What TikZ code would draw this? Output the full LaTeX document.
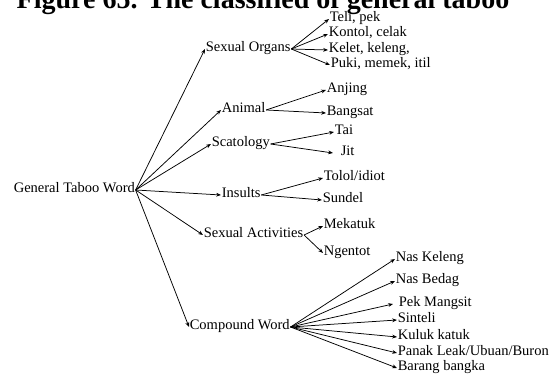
\documentclass[tikz,border=0pt]{standalone}
\usepackage{fontspec}
\setmainfont{Liberation Serif}
\usetikzlibrary{arrows.meta}
\begin{document}
\begin{tikzpicture}[x=1pt,y=-1pt,
  lbl/.style={anchor=west,inner xsep=0.6pt,inner ysep=0pt,font=\fontsize{14.5}{17}\selectfont,text height=0.68em,text depth=0.22em},
  conn/.style={line width=0.75pt,-{Stealth[length=4.8pt,width=3.8pt]}}]
\useasboundingbox (0,0) rectangle (558,374);
\clip (0,0) rectangle (558,374);
\node[anchor=base,inner sep=0pt,font=\fontsize{28}{31}\selectfont\bfseries] (title) at (263,9) {Figure 65. The classified of general taboo};
% root
\node[lbl] (gen) at (13,190) {General Taboo Word};
% level 1
\node[lbl] (so) at (205,49) {Sexual Organs};
\node[lbl] (an) at (221,110) {Animal};
\node[lbl] (sc) at (211,144) {Scatology};
\node[lbl] (in) at (221,195) {Insults};
\node[lbl] (sa) at (203,235) {Sexual Activities};
\node[lbl] (cw) at (189,327) {Compound Word};
% level 2
\node[lbl] (s1) at (329,19) {Teli, pek};
\node[lbl] (s2) at (328,34) {Kontol, celak};
\node[lbl] (s3) at (328,50) {Kelet, keleng,};
\node[lbl] (s4) at (330,65) {Puki, memek, itil};
\node[lbl] (a1) at (326,90) {Anjing};
\node[lbl] (a2) at (326,113) {Bangsat};
\node[lbl] (c1) at (334,132) {Tai};
\node[lbl] (c2) at (333,153) {\hspace*{7pt}Jit};
\node[lbl] (i1) at (323,178) {Tolol/idiot};
\node[lbl] (i2) at (322,200) {Sundel};
\node[lbl] (v1) at (323,226) {Mekatuk};
\node[lbl] (v2) at (323,253) {Ngentot};
\node[lbl] (w1) at (395,259) {Nas Keleng};
\node[lbl] (w2) at (395,281) {Nas Bedag};
\node[lbl] (w3) at (393,304) {\hspace*{5pt}Pek Mangsit};
\node[lbl] (w4) at (397,320) {Sinteli};
\node[lbl] (w5) at (397,337) {Kuluk katuk};
\node[lbl] (w6) at (397,353) {Panak Leak/Ubuan/Buron};
\node[lbl] (w7) at (397,368) {Barang bangka};
% connectors
\foreach \t in {so,an,sc,in,sa,cw} \draw[conn] (gen.east) -- (\t.west);
\foreach \t in {s1,s2,s3,s4} \draw[conn] (so.east) -- (\t.west);
\foreach \t in {a1,a2} \draw[conn] (an.east) -- (\t.west);
\foreach \t in {c1,c2} \draw[conn] (sc.east) -- (\t.west);
\foreach \t in {i1,i2} \draw[conn] (in.east) -- (\t.west);
\foreach \t in {v1,v2} \draw[conn] (sa.east) -- (\t.west);
\foreach \t in {w1,w2,w3,w4,w5,w6,w7} \draw[conn] (cw.east) -- (\t.west);
\end{tikzpicture}
\end{document}
